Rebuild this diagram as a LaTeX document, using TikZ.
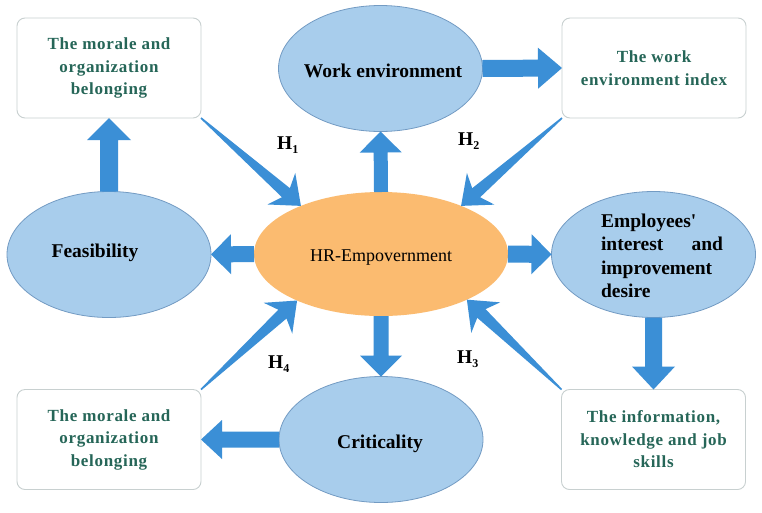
\documentclass[tikz,border=0pt]{standalone}
\usepackage{fontspec}
\setmainfont{Liberation Serif}
\usetikzlibrary{shapes.geometric,calc}
\definecolor{arrowblue}{RGB}{59,143,214}
\definecolor{ellfill}{RGB}{168,205,236}
\definecolor{ellline}{RGB}{115,155,195}
\definecolor{hrfill}{RGB}{251,187,112}
\definecolor{boxline}{RGB}{200,208,208}
\definecolor{boxtext}{RGB}{38,102,88}
\newcommand\boxfont{\bfseries\fontsize{17}{22.5}\selectfont\addfontfeature{LetterSpace=4}}
\newcommand\elfont{\bfseries\fontsize{19.5}{23.5}\selectfont}
\newcommand\hlsub[1]{\raisebox{-4pt}{\fontsize{12}{12}\selectfont #1}}
% #1 start, #2 tip, #3 start half width, #4 shaft-end half width,
% #5 head half width, #6 shaft end distance from tip, #7 barb distance from tip
\newcommand\blockarrow[7]{%
  \path ($(#2)!#6pt!(#1)$) coordinate (ab) ($(#2)!#7pt!(#1)$) coordinate (ac);
  \fill[arrowblue] ($(#1)!#3pt!90:(#2)$) -- ($(ab)!#4pt!-90:(#1)$) -- ($(ac)!#5pt!-90:(#1)$)
    -- (#2) -- ($(ac)!#5pt!90:(#1)$) -- ($(ab)!#4pt!90:(#1)$) -- ($(#1)!#3pt!-90:(#2)$) -- cycle;
}
\begin{document}
\begin{tikzpicture}[x=1pt,y=-1pt,
  ell/.style={ellipse,draw=ellline,line width=0.8pt,fill=ellfill,minimum width=204pt,minimum height=126pt,inner sep=0pt,outer sep=0pt},
  hrell/.style={ellipse,fill=hrfill,minimum width=254pt,minimum height=124pt,inner sep=0pt,outer sep=0pt},
  infobox/.style={rectangle,rounded corners=8pt,draw=boxline,line width=0.9pt,fill=white,minimum width=184pt,minimum height=100pt,inner sep=0pt,outer sep=0pt,text=boxtext,font=\boxfont,align=center},
  elltext/.style={font=\elfont,text=black,inner sep=0pt,anchor=base},
  hlabel/.style={font=\elfont,text=black,inner sep=0pt,anchor=base west}]
\useasboundingbox (0,0) rectangle (762,512);
\fill[white] (0,0) rectangle (762,512);

% boxes
\node[infobox] (tl) at (109,68) {The morale and\\organization\\belonging};
\node[infobox] (tr) at (654,68) {The work\\environment index};
\node[infobox] (bl) at (109,439.5) {The morale and\\organization\\belonging};
\node[infobox] (br) at (653.5,439.5) {The information,\\knowledge and job\\skills};

% ellipses
\node[ell] (we) at (380.5,68.5) {};
\node[ell] (fe) at (109,254.5) {};
\node[ell] (em) at (653.5,254.5) {};
\node[ell] (cr) at (381,439.5) {};
\node[hrell] (hr) at (381,254) {};

% texts in ellipses
\node[elltext] (wet) at (383,77) {Work environment};
\node[elltext] (fet) at (95,257) {Feasibility};
\node[elltext] (crt) at (380,448) {Criticality};
\node[font=\elfont,text width=122pt,align=left,inner sep=0pt] (emt) at (662,256)
  {Employees\textquotesingle\\interest\hfill and\\improvement\\desire};
\node[font=\fontsize{18}{22}\selectfont,inner sep=0pt,anchor=base] (hrt) at (381,261) {HR-Empovernment};

% block arrows
\blockarrow{fe.north}{tl.south}{9}{9}{22}{22}{22}
\blockarrow{hr.north}{we.south}{7}{7}{21}{21}{21}
\blockarrow{we.east}{tr.west}{8.5}{8.5}{20.5}{24}{24}
\blockarrow{hr.west}{fe.east}{8}{8}{20}{20}{20}
\blockarrow{hr.east}{em.west}{8.5}{8.5}{20}{20}{20}
\blockarrow{em.south}{br.north}{8.5}{8.5}{21.5}{23}{23}
\blockarrow{hr.south}{cr.north}{7.5}{7.5}{21}{21}{21}
\blockarrow{cr.west}{bl.east}{8}{8}{19.5}{21}{21}

% tapered arrows
\blockarrow{tl.south east}{hr.149}{0.8}{6}{21}{20}{26}
\blockarrow{tr.south west}{hr.31}{0.8}{6}{21}{20}{26}
\blockarrow{br.north west}{hr.-28}{0.8}{6}{21}{20}{26}
\blockarrow{bl.north east}{hr.209}{0.8}{6}{21}{20}{26}

% labels
\node[hlabel] (h1) at (277,149) {H\hlsub{1}};
\node[hlabel] (h2) at (458,145) {H\hlsub{2}};
\node[hlabel] (h3) at (457,363) {H\hlsub{3}};
\node[hlabel] (h4) at (268,368) {H\hlsub{4}};
\end{tikzpicture}
\end{document}
